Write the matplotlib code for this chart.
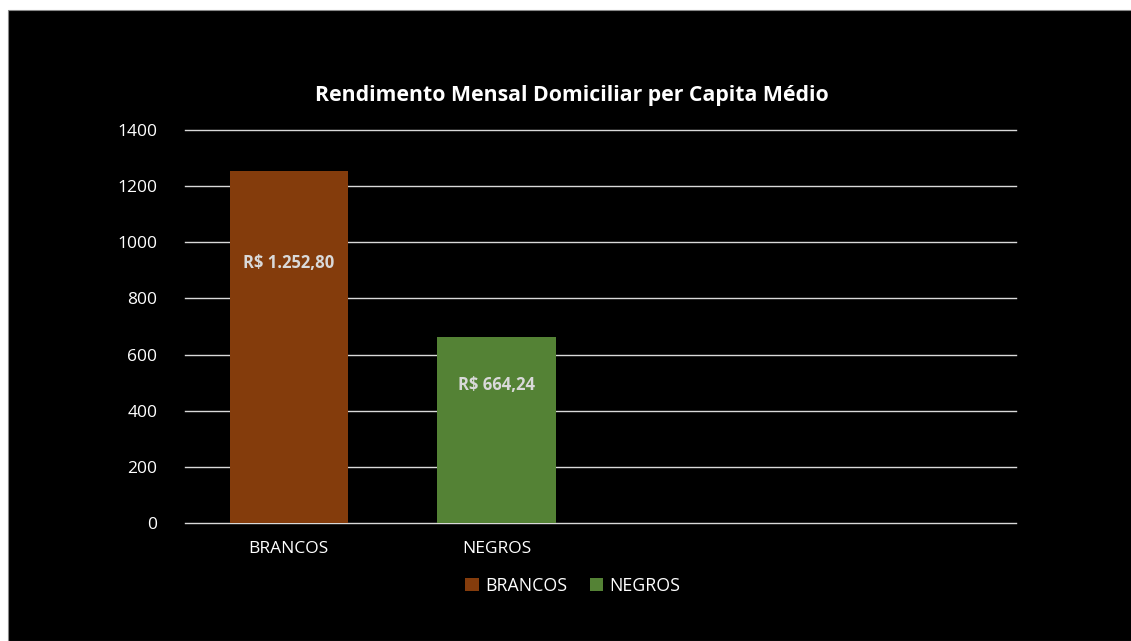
import matplotlib.pyplot as plt
from matplotlib.patches import Rectangle, Patch

categorias = ["BRANCOS", "NEGROS"]
valores = [1252.80, 664.24]
rotulos = ["R$ 1.252,80", "R$ 664,24"]
cores = ["#843C0C", "#548235"]
yticks = [0, 200, 400, 600, 800, 1000, 1200, 1400]

plt.rcParams['font.family'] = ['Open Sans', 'DejaVu Sans']

fig = plt.figure(figsize=(11.31, 6.41), dpi=100)
fig.patch.set_facecolor("white")
# fundo preto do gráfico
fig.patches.append(Rectangle((8 / 1131, 0), 1, 1 - 10 / 641, transform=fig.transFigure,
                             facecolor="black", edgecolor="#888888", lw=0.8, zorder=-5))

ax = fig.add_axes([185 / 1131, 1 - 523 / 641, (1016 - 185) / 1131, (523 - 130) / 641])
ax.set_facecolor("black")

x = list(range(len(categorias)))
ax.bar(x, valores, width=0.57, color=cores, zorder=3)
for xi, v, r in zip(x, valores, rotulos):
    ax.text(xi, v * 0.74, r, ha="center", va="center", color="#d9d9d9",
            fontsize=12, fontweight="bold", zorder=4)

ax.set_xlim(-0.5, 3.5)
ax.set_ylim(0, 1400)
ax.set_yticks(yticks)
ax.set_yticklabels([str(t) for t in yticks], color="white", fontsize=12.5)
ax.set_xticks(x)
ax.set_xticklabels(categorias, color="white", fontsize=12.5)
ax.tick_params(axis="both", length=0)
ax.tick_params(axis="y", pad=20)
ax.tick_params(axis="x", pad=13)
for t in yticks:
    ax.axhline(t, color="#d9d9d9", lw=1, zorder=1, clip_on=False)
for s in ax.spines.values():
    s.set_visible(False)

fig.text(572 / 1131, 1 - 96 / 641, "Rendimento Mensal Domiciliar per Capita Médio",
         color="white", fontsize=15.3, fontweight="bold", ha="center", va="center")

handles = [Patch(facecolor=c) for c in cores]
fig.legend(handles, categorias, loc="center", bbox_to_anchor=(573 / 1131, 1 - 586 / 641),
           ncol=2, frameon=False, labelcolor="white", fontsize=12.8,
           handlelength=0.75, handleheight=0.75, handletextpad=0.35, columnspacing=1.3)

fig.savefig("out.png", dpi=100, facecolor=fig.get_facecolor())
